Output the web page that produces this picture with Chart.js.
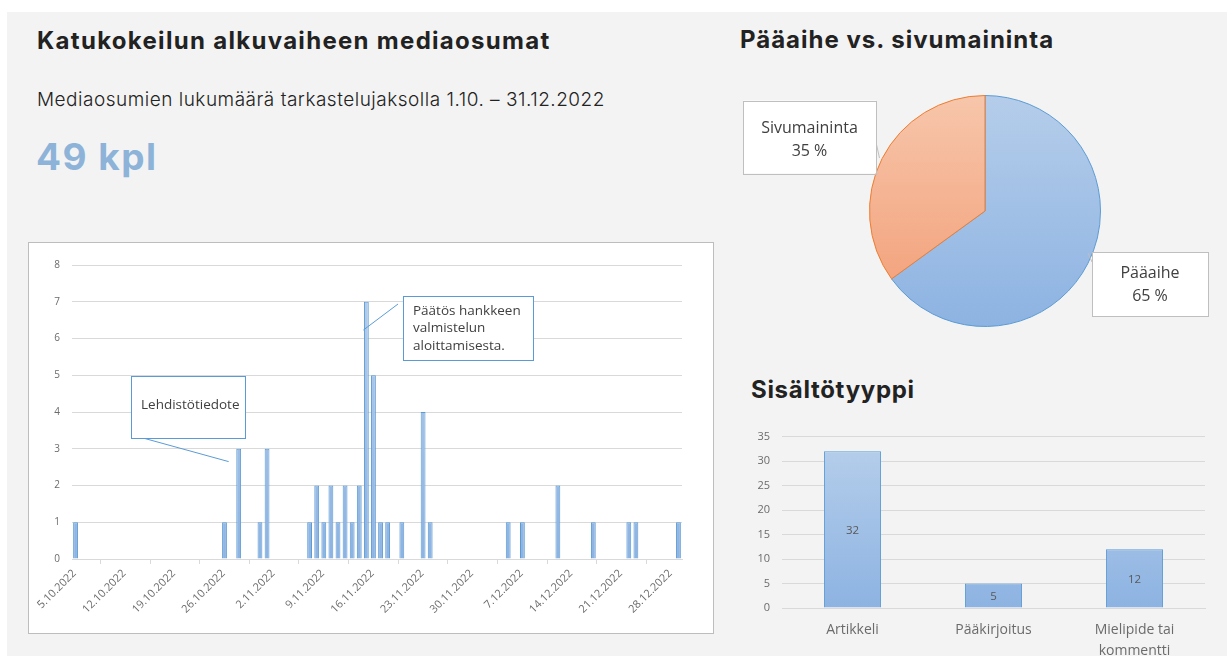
<!DOCTYPE html>
<html lang="fi">
<head>
<meta charset="utf-8">
<title>Katukokeilun mediaosumat</title>
<script src="https://cdn.jsdelivr.net/npm/chart.js@4.4.0/dist/chart.umd.min.js"></script>
<style>
  html, body { margin: 0; padding: 0; background: #fff; }
  body { width: 1227px; height: 656px; position: relative; overflow: hidden; font-family: "Open Sans", sans-serif; }
  #panel { position: absolute; left: 7px; top: 12px; right: 0; bottom: 0; background: #f3f3f3; }
  .title { position: absolute; font-family: Inter, sans-serif; font-weight: 700; font-size: 24px; line-height: 26px; letter-spacing: 1px; color: #222; white-space: nowrap; }
  #sub { position: absolute; left: 37px; top: 89px; font-family: Inter, sans-serif; font-weight: 300; font-size: 19px; line-height: 22px; letter-spacing: 0.5px; color: #222; white-space: nowrap; }
  #total { position: absolute; left: 36px; top: 135px; font-family: Inter, sans-serif; font-weight: 700; font-size: 37px; line-height: 44px; letter-spacing: 1.5px; color: #8db3d9; white-space: nowrap; }
  #dailyBox { position: absolute; left: 28px; top: 242px; width: 686px; height: 392px; box-sizing: border-box; border: 1px solid #bdbdbd; background: #fff; }
  #dailyBox canvas { display: block; }
  #pieWrap { position: absolute; left: 740px; top: 85px; width: 480px; height: 252px; }
  #typeWrap { position: absolute; left: 740px; top: 418px; width: 480px; height: 238px; }
</style>
</head>
<body>
<div id="panel"></div>
<div class="title" style="left:37px; top:28px; letter-spacing:1.3px;">Katukokeilun alkuvaiheen mediaosumat</div>
<div id="sub">Mediaosumien lukumäärä tarkastelujaksolla 1.10. – 31.12.2022</div>
<div id="total">49 kpl</div>
<div id="dailyBox"><canvas id="daily" width="684" height="390"></canvas></div>
<div class="title" style="left:740px; top:27px;">Pääaihe vs. sivumaininta</div>
<div id="pieWrap"><canvas id="pie" width="480" height="252"></canvas></div>
<div class="title" style="left:751px; top:377px; letter-spacing:0.7px;">Sisältötyyppi</div>
<div id="typeWrap"><canvas id="types" width="480" height="238"></canvas></div>

<script>
"use strict";

// daily hits, 5.10.2022 - 29.12.2022, one row per week
const dailyHits = [
  1, 0, 0, 0, 0, 0, 0,
  0, 0, 0, 0, 0, 0, 0,
  0, 0, 0, 0, 0, 0, 0,
  1, 0, 3, 0, 0, 1, 3,
  0, 0, 0, 0, 0, 1, 2,
  1, 2, 1, 2, 1, 2, 7,
  5, 1, 1, 0, 1, 0, 0,
  4, 1, 0, 0, 0, 0, 0,
  0, 0, 0, 0, 0, 1, 0,
  1, 0, 0, 0, 0, 2, 0,
  0, 0, 0, 1, 0, 0, 0,
  0, 1, 1, 0, 0, 0, 0,
  0, 1,
];
const weekTicks = [
  "5.10.2022", "12.10.2022", "19.10.2022", "26.10.2022", "2.11.2022",
  "9.11.2022", "16.11.2022", "23.11.2022", "30.11.2022", "7.12.2022",
  "14.12.2022", "21.12.2022", "28.12.2022",
];
const notes = [
  { lines: ["Lehdistötiedote"], day: 23, value: 2.65 },
  { lines: ["Päätös hankkeen", "valmistelun", "aloittamisesta."], day: 41, value: 6.23 },
];

const pieLabels = ["Pääaihe", "Sivumaininta"];
const pieShares = [65, 35];

const typeLabels = ["Artikkeli", "Pääkirjoitus", ["Mielipide tai", "kommentti"]];
const typeCounts = [32, 5, 12];

const tickGrey = "#6b6b6b";
const gridGrey = "#d9d9d9";
const blueLine = "#5b9bd5";

// one category per day
const dayLabels = [];
const start = new Date(2022, 9, 5);
for (let i = 0; i < dailyHits.length; i++) {
  const d = new Date(start);
  d.setDate(start.getDate() + i);
  dayLabels.push(d.getDate() + "." + (d.getMonth() + 1) + "." + d.getFullYear());
}

function blueGradient(ctx) {
  const area = ctx.chart.chartArea;
  if (!area) return "#9dbde6";
  const g = ctx.chart.ctx.createLinearGradient(0, area.top, 0, area.bottom);
  g.addColorStop(0, "#b7cfeb");
  g.addColorStop(1, "#8db3e2");
  return g;
}

// callout boxes on the daily chart
const boxes = [
  { x: 59, y: 111, w: 114, h: 62, from: [12, 62], dx: -10 },
  { x: 331, y: 31, w: 130, h: 64, from: [-5, 8], dx: -3 },
];
const dailyNotes = {
  id: "dailyNotes",
  afterDatasetsDraw(chart) {
    const { ctx, chartArea, scales } = chart;
    ctx.save();
    notes.forEach((n, k) => {
      const b = boxes[k];
      const bx = chartArea.left + b.x;
      const by = chartArea.top + b.y;
      ctx.strokeStyle = blueLine;
      ctx.lineWidth = 1;
      ctx.beginPath();
      ctx.moveTo(bx + b.from[0], by + b.from[1]);
      ctx.lineTo(scales.x.getPixelForValue(n.day) + b.dx, scales.y.getPixelForValue(n.value));
      ctx.stroke();
      ctx.fillStyle = "#fff";
      ctx.fillRect(bx, by, b.w, b.h);
      ctx.strokeRect(bx + 0.5, by + 0.5, b.w, b.h);
      ctx.fillStyle = "#404040";
      ctx.font = "13.5px 'Open Sans'";
      ctx.textBaseline = "middle";
      ctx.textAlign = "left";
      if (n.lines.length === 1) {
        ctx.fillText(n.lines[0], bx + 10, by + 29);
      } else {
        n.lines.forEach((t, i) => ctx.fillText(t, bx + 10, by + 15 + i * 17.5));
      }
    });
    ctx.restore();
  },
};

new Chart(document.getElementById("daily"), {
  type: "bar",
  data: {
    labels: dayLabels,
    datasets: [
      {
        data: dailyHits,
        backgroundColor: blueGradient,
        borderColor: blueLine,
        borderWidth: 1,
        barPercentage: 0.68,
        categoryPercentage: 1,
      },
    ],
  },
  options: {
    responsive: false,
    animation: false,
    layout: { padding: { top: 22, right: 31, left: 0, bottom: 0 } },
    plugins: { legend: { display: false }, tooltip: { enabled: false } },
    scales: {
      x: {
        grid: { drawOnChartArea: false, offset: true, color: gridGrey, tickLength: 5 },
        border: { color: gridGrey },
        ticks: {
          autoSkip: false,
          minRotation: 45,
          maxRotation: 45,
          labelOffset: -1,
          color: tickGrey,
          font: { family: "'Open Sans'", size: 11 },
          callback: (v, i) => (i % 7 === 0 ? weekTicks[i / 7] : null),
        },
        afterFit: (s) => { s.height = 74; },
      },
      y: {
        min: 0,
        max: 8,
        ticks: { stepSize: 1, color: tickGrey, padding: 12, font: { family: "'Open Sans'", size: 10 } },
        grid: { color: gridGrey, drawTicks: false },
        border: { display: false },
        afterFit: (s) => { s.width = 43; },
      },
    },
  },
  plugins: [dailyNotes],
});

// pie with callout labels
const pieBoxes = [
  { cx: 165, cy: 73, w: 116, h: 64, text: [-11, 12], line: [[-58, -22], [-62, -31]] },
  { cx: -175.5, cy: -74, w: 133, h: 73, text: [-9, 14], line: [[66, 3], [70, 21]] },
];
function pieFill(ctx) {
  const area = ctx.chart.chartArea;
  const orange = ctx.dataIndex === 1;
  if (!area) return orange ? "#f4b08e" : "#a6c4e8";
  const g = ctx.chart.ctx.createLinearGradient(0, area.top, 0, area.bottom);
  g.addColorStop(0, orange ? "#f7c6ab" : "#b5cdea");
  g.addColorStop(1, orange ? "#f29c74" : "#8db3e2");
  return g;
}
const pieCallouts = {
  id: "pieCallouts",
  afterDatasetsDraw(chart) {
    const { ctx } = chart;
    const arc = chart.getDatasetMeta(0).data[0];
    ctx.save();
    pieBoxes.forEach((b, i) => {
      const x = arc.x + b.cx - b.w / 2;
      const y = arc.y + b.cy - b.h / 2;
      ctx.strokeStyle = "#bfbfbf";
      ctx.lineWidth = 1;
      ctx.beginPath();
      ctx.moveTo(arc.x + b.cx + b.line[0][0], arc.y + b.cy + b.line[0][1]);
      ctx.lineTo(arc.x + b.cx + b.line[1][0], arc.y + b.cy + b.line[1][1]);
      ctx.stroke();
      ctx.fillStyle = "#fff";
      ctx.fillRect(x, y, b.w, b.h);
      ctx.strokeRect(Math.round(x) + 0.5, Math.round(y) + 0.5, b.w, b.h);
      ctx.fillStyle = "#404040";
      ctx.font = "16px 'Open Sans'";
      ctx.textAlign = "center";
      ctx.textBaseline = "middle";
      ctx.fillText(pieLabels[i], arc.x + b.cx, arc.y + b.cy + b.text[0]);
      ctx.fillText(pieShares[i] + " %", arc.x + b.cx, arc.y + b.cy + b.text[1]);
    });
    ctx.restore();
  },
};

new Chart(document.getElementById("pie"), {
  type: "pie",
  data: {
    labels: pieLabels,
    datasets: [
      {
        data: pieShares,
        backgroundColor: pieFill,
        borderColor: ["#5b9bd5", "#ed7d31"],
        borderWidth: 1,
      },
    ],
  },
  options: {
    responsive: false,
    animation: false,
    layout: { padding: { top: 10, bottom: 10, left: 129, right: 119 } },
    plugins: { legend: { display: false }, tooltip: { enabled: false } },
  },
  plugins: [pieCallouts],
});

// content type bars with value in the middle of each bar
const barValues = {
  id: "barValues",
  afterDatasetsDraw(chart) {
    const { ctx } = chart;
    ctx.save();
    ctx.fillStyle = "#595959";
    ctx.font = "11.5px 'Open Sans'";
    ctx.textAlign = "center";
    ctx.textBaseline = "middle";
    chart.getDatasetMeta(0).data.forEach((bar, i) => {
      ctx.fillText(String(typeCounts[i]), bar.x, (bar.y + bar.base) / 2 + 1);
    });
    ctx.restore();
  },
};

new Chart(document.getElementById("types"), {
  type: "bar",
  data: {
    labels: typeLabels,
    datasets: [
      {
        data: typeCounts,
        backgroundColor: blueGradient,
        borderColor: blueLine,
        borderWidth: 1,
        barPercentage: 0.405,
        categoryPercentage: 1,
      },
    ],
  },
  options: {
    responsive: false,
    animation: false,
    layout: { padding: { top: 17, right: 15, left: 0, bottom: 0 } },
    plugins: { legend: { display: false }, tooltip: { enabled: false } },
    scales: {
      x: {
        grid: { display: false, drawTicks: false },
        border: { color: gridGrey },
        ticks: {
          color: tickGrey,
          padding: 12,
          font: { family: "'Open Sans'", size: 14, lineHeight: 1.5 },
        },
        afterFit: (s) => { s.height = 48; },
      },
      y: {
        min: 0,
        max: 35,
        ticks: { stepSize: 5, color: tickGrey, padding: 12, font: { family: "'Open Sans'", size: 11 } },
        grid: { color: gridGrey, drawTicks: false },
        border: { display: false },
        afterFit: (s) => { s.width = 42; },
      },
    },
  },
  plugins: [barValues],
});
</script>
</body>
</html>
